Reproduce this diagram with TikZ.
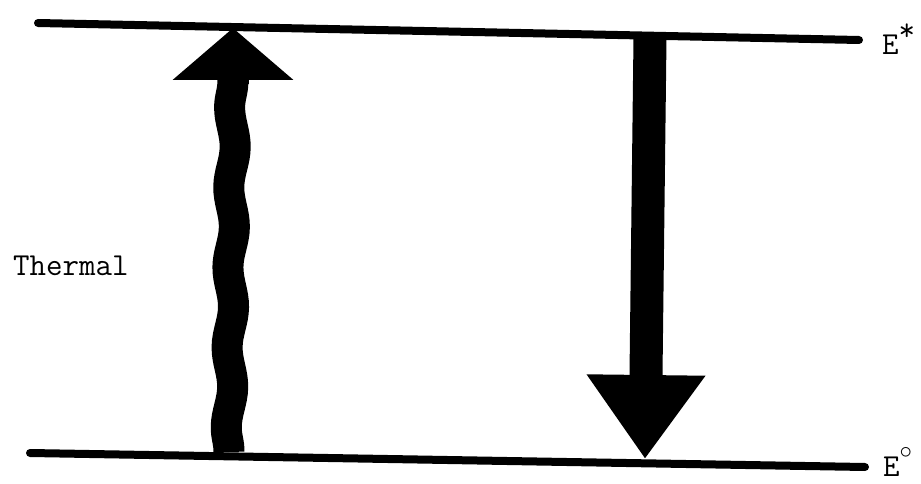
\documentclass[tikz,border=0pt]{standalone}
\usepackage{fontspec}
\usepackage{amsmath,amssymb}
\usetikzlibrary{positioning,arrows.meta,calc,decorations.pathmorphing}

\begin{document}
\begin{tikzpicture}[
  x=1pt, y=-1pt,
  font=\fontsize{32}{32}\selectfont\ttfamily,
  level/.style={line width=8pt, line cap=round},
  shaft/.style={line width=31pt},
  wavy/.style={shaft, decorate, decoration={snake, amplitude=3pt, segment length=80pt}},
  uphead/.style={shaft, -{Triangle[width=118pt, length=52pt]}},
  downhead/.style={line width=33pt, -{Triangle[width=113pt, length=84pt]}},
  lbl/.style={anchor=base west, inner sep=0pt}
]
\useasboundingbox (0,0) rectangle (921,484);
% --- energy levels ---
\coordinate (ex1) at (38,23);
\coordinate (ex2) at (859,40);
\coordinate (gr1) at (30,453);
\coordinate (gr2) at (865,467);
\draw[level] (ex1) -- (ex2);
\draw[level] (gr1) -- (gr2);
\node[lbl] (estar) at (882,55) {E\raisebox{0.45em}{*}};
\node[lbl] (ezero) at (883,476) {E\raisebox{0.55em}{\fontsize{28}{28}\selectfont$\circ$}};
% --- thermal excitation ---
\coordinate (th0) at (229,452);
\coordinate (th1) at (233,70);
\coordinate (th2) at (233,28);
\draw[wavy] (th0) -- (th1);
\draw[uphead] ($(th2)+(0,56)$) -- (th2);
\node[lbl] (thermal) at (13,275) {Thermal};
% --- emission ---
\coordinate (em0) at (650,38);
\coordinate (em1) at (645,459);
\draw[downhead] (em0) -- (em1);
\end{tikzpicture}
\end{document}
